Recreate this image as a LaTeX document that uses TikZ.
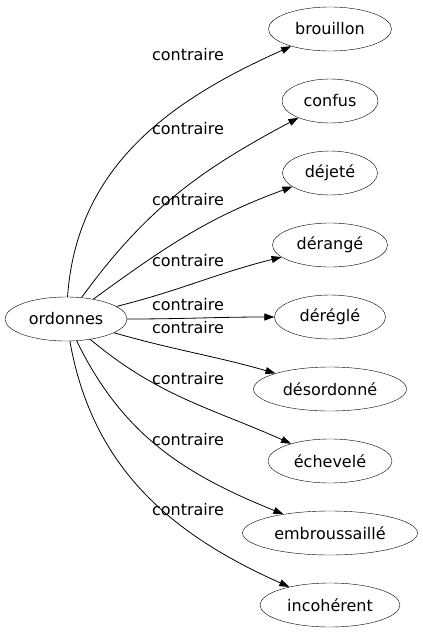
\documentclass[tikz,border=0pt]{standalone}
\usepackage{fontspec}
\setmainfont{DejaVu Sans}
\usetikzlibrary{shapes.geometric, arrows.meta}

\begin{document}
\begin{tikzpicture}[
    x=1pt, y=1pt,
    word/.style = {ellipse, draw, inner sep=2pt, minimum height=44pt, font=\fontsize{16}{18}\selectfont},
    rel/.style = {font=\fontsize{16}{18}\selectfont, inner sep=0pt},
    link/.style = {-{Triangle[length=10pt, width=7pt]}, line width=0.8pt},
    >=Stealth]

    \useasboundingbox (0,0) rectangle (423,-635);

    \node[word, minimum width=122pt] (ordonnes) at (66,-319) {ordonnes};

    \foreach \name/\text/\yy/\ww/\lab/\o/\i in {
        brouillon/brouillon/29/123/55/86/204,
        confus/confus/101/96/129/54/208,
        dejete/déjeté/173/95/200/36/200,
        derange/dérangé/245/115/261/14/194,
        deregle/déréglé/317/111/305/0/180,
        desordonne/désordonné/389/153/328/-16/164,
        echevele/échevelé/461/124/379/-40/156,
        embroussaille/embroussaillé/533/175/440/-64/158,
        incoherent/incohérent/605/140/510/-80/156} {
        \node[word, minimum width=\ww pt] (\name) at (330,-\yy) {\text};
        \node[rel] (l\name) at (188,-\lab) {contraire};
        \draw[link] (ordonnes) to[out=\o, in=\i] (\name);
    }
\end{tikzpicture}
\end{document}
